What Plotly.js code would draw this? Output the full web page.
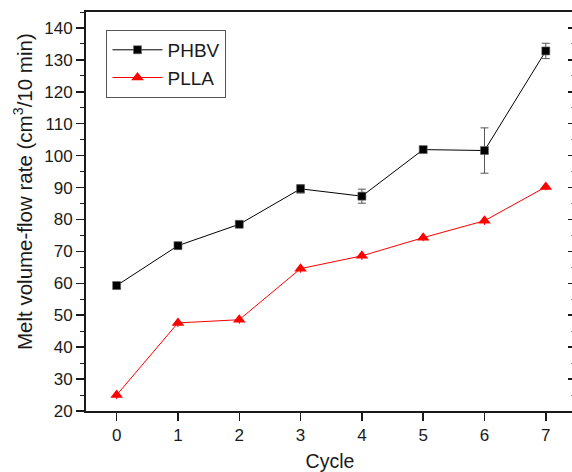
<!DOCTYPE html>
<html>
<head>
<meta charset="utf-8">
<script src="https://cdn.plot.ly/plotly-3.0.1.min.js"></script>
<style>
  html, body { margin: 0; padding: 0; overflow: hidden; background: #fff; }
  #chart { width: 574px; height: 472px; }
</style>
</head>
<body>
<div id="chart"></div>
<script>
// Melt volume-flow rate over repeated processing cycles
const cycles = [0, 1, 2, 3, 4, 5, 6, 7];
const phbv = [59.3, 71.8, 78.5, 89.6, 87.3, 101.9, 101.6, 132.8];
const phbvErr = [1.0, 1.0, 0.6, 1.3, 2.2, 0.8, 7.1, 2.4];
const plla = [25.0, 47.6, 48.6, 64.6, 68.6, 74.3, 79.6, 90.2];
const pllaErr = [1.3, 1.3, 1.3, 1.3, 1.3, 1.1, 1.3, 1.1];
const xTicks = [0, 1, 2, 3, 4, 5, 6, 7];
const yTitle = 'Melt volume-flow rate (cm<sup>3</sup>/10 min)';

const FONT = 'Liberation Sans, Arial, sans-serif';
const INK = '#1a1a1a';

const traces = [
  {
    name: 'PHBV',
    x: cycles, y: phbv,
    mode: 'lines+markers',
    line: { color: '#000', width: 1 },
    marker: { symbol: 'square', size: 8, color: '#000', line: { color: '#666', width: 0.6 } },
    error_y: { type: 'data', array: phbvErr, visible: true, color: '#555', thickness: 1, width: 4 }
  },
  {
    name: 'PLLA',
    x: cycles, y: plla,
    mode: 'lines+markers',
    line: { color: '#ff0000', width: 1 },
    marker: { symbol: 'triangle-up', size: 11, color: '#ff0000' },
    error_y: { type: 'data', array: pllaErr, visible: true, color: '#ff0000', thickness: 1, width: 0 }
  },
  // empty trace that carries the right-hand tick axis
  { x: [], y: [], yaxis: 'y2', showlegend: false, hoverinfo: 'skip' }
];

const layout = {
  width: 574, height: 472,
  margin: { l: 86, r: 0, t: 12, b: 61 },
  paper_bgcolor: '#fff', plot_bgcolor: '#fff',
  font: { family: FONT, size: 17, color: INK },
  showlegend: true,
  legend: {
    x: 0.042, y: 0.955, xanchor: 'left', yanchor: 'top',
    bgcolor: '#fff', bordercolor: '#555', borderwidth: 1,
    font: { family: FONT, size: 19, color: INK },
    itemwidth: 50, tracegroupgap: 0
  },
  xaxis: {
    range: [-0.5, 7.46],
    tickvals: xTicks, ticktext: xTicks.map(String),
    ticks: 'outside', ticklen: 8, tickwidth: 1.5, tickcolor: INK,
    showline: true, linewidth: 2, linecolor: INK, mirror: true,
    showgrid: false, zeroline: false,
    tickfont: { size: 17 },
    title: { text: 'Cycle', font: { size: 19.5 }, standoff: 17 }
  },
  yaxis: {
    range: [20, 145],
    tick0: 20, dtick: 10,
    ticks: 'outside', ticklen: 8, tickwidth: 1.5, tickcolor: INK,
    minor: { dtick: 5, ticks: 'outside', ticklen: 4, tickwidth: 1, tickcolor: INK },
    showline: true, linewidth: 2, linecolor: INK, mirror: true,
    showgrid: false, zeroline: false,
    tickfont: { size: 17 }
  },
  yaxis2: {
    overlaying: 'y', side: 'right',
    range: [20, 145], tick0: 20, dtick: 10,
    ticks: 'inside', ticklen: 6, tickwidth: 1.5, tickcolor: INK,
    minor: { dtick: 5, ticks: 'inside', ticklen: 3, tickwidth: 1, tickcolor: '#777' },
    showticklabels: false, showline: false, showgrid: false, zeroline: false
  },
  annotations: [{
    text: yTitle, textangle: -90,
    xref: 'paper', yref: 'paper', x: -0.129, y: 0.549,
    xanchor: 'center', yanchor: 'middle', showarrow: false,
    font: { family: FONT, size: 20.5, color: INK }
  }]
};

Plotly.newPlot('chart', traces, layout, { staticPlot: true, displayModeBar: false });
</script>
</body>
</html>
